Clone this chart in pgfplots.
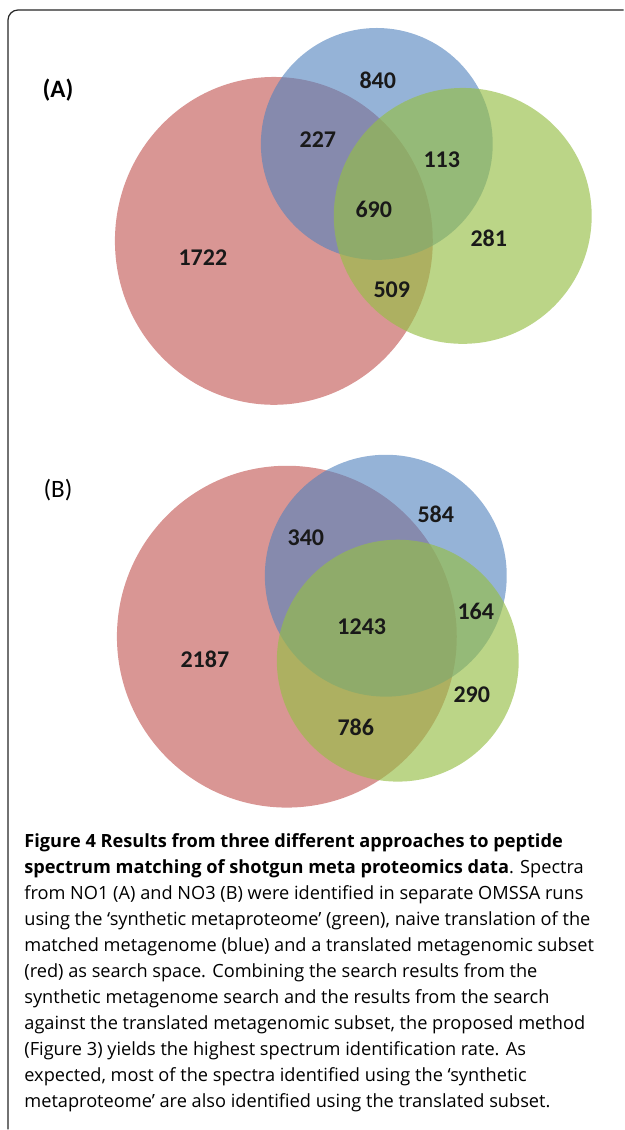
\documentclass[border=0pt]{standalone}
\usepackage{fontspec}
\setmainfont{Open Sans}
\newfontfamily\numfont{Carlito}
\usepackage{pgfplots}
\pgfplotsset{compat=1.18}
\definecolor{vred}{RGB}{192,80,77}
\definecolor{vblue}{RGB}{79,129,189}
\definecolor{vgreen}{RGB}{150,190,70}

\begin{document}
\begin{tikzpicture}
\begin{axis}[
    width=312pt, height=565pt, scale only axis,
    xmin=0, xmax=624, ymin=0, ymax=1130, y dir=reverse,
    hide axis, clip=false,
]
\path (axis cs:0,0) (axis cs:624,1130);
% frame
\draw[line width=0.6pt, black!85, rounded corners=5pt]
    (axis cs:8,1130) -- (axis cs:8,10) -- (axis cs:624,10);

% panel A
\fill[vred, fill opacity=0.6] (axis cs:274,241) ellipse [x radius=159, y radius=164];
\fill[vblue, fill opacity=0.6] (axis cs:377,144) ellipse [x radius=116, y radius=116];
\fill[vgreen, fill opacity=0.65] (axis cs:463,216) ellipse [x radius=129, y radius=128];
\node[font=\numfont\bfseries\fontsize{12.5}{14}\selectfont] at (axis cs:58,90) {(A)};
\addplot[only marks, mark=none, point meta=explicit symbolic,
    nodes near coords, nodes near coords align=center,
    nodes near coords style={font=\numfont\bfseries\fontsize{12}{14}\selectfont, text=black!90}]
    table[meta=label] {
x y label
378 80 840
318 140 227
442 160 113
374 210 690
203 258 1722
489 238 281
392 290 509
};

% panel B
\fill[vred, fill opacity=0.6] (axis cs:287,637) ellipse [x radius=170, y radius=171];
\fill[vblue, fill opacity=0.6] (axis cs:386,576) ellipse [x radius=121, y radius=121];
\fill[vgreen, fill opacity=0.65] (axis cs:398,661) ellipse [x radius=121, y radius=121];
\node[font=\numfont\fontsize{12.5}{14}\selectfont] at (axis cs:58,490) {(B)};
\addplot[only marks, mark=none, point meta=explicit symbolic,
    nodes near coords, nodes near coords align=center,
    nodes near coords style={font=\numfont\bfseries\fontsize{12}{14}\selectfont, text=black!90}]
    table[meta=label] {
x y label
436 515 584
306 538 340
476 612 164
362 627 1243
205 660 2187
472 695 290
356 728 786
};

% caption
\node[anchor=north west, inner sep=0pt, align=left,
      font=\fontsize{9.1}{13}\selectfont] at (axis cs:24,834) {%
\textbf{Figure 4 Results from three different approaches to peptide}\\
\textbf{spectrum matching of shotgun meta proteomics data}. Spectra\\
from NO1 (A) and NO3 (B) were identified in separate OMSSA runs\\
using the ‘synthetic metaproteome’ (green), naive translation of the\\
matched metagenome (blue) and a translated metagenomic subset\\
(red) as search space. Combining the search results from the\\
synthetic metagenome search and the results from the search\\
against the translated metagenomic subset, the proposed method\\
(Figure 3) yields the highest spectrum identification rate. As\\
expected, most of the spectra identified using the ‘synthetic\\
metaproteome’ are also identified using the translated subset.};
\end{axis}
\end{tikzpicture}
\end{document}
